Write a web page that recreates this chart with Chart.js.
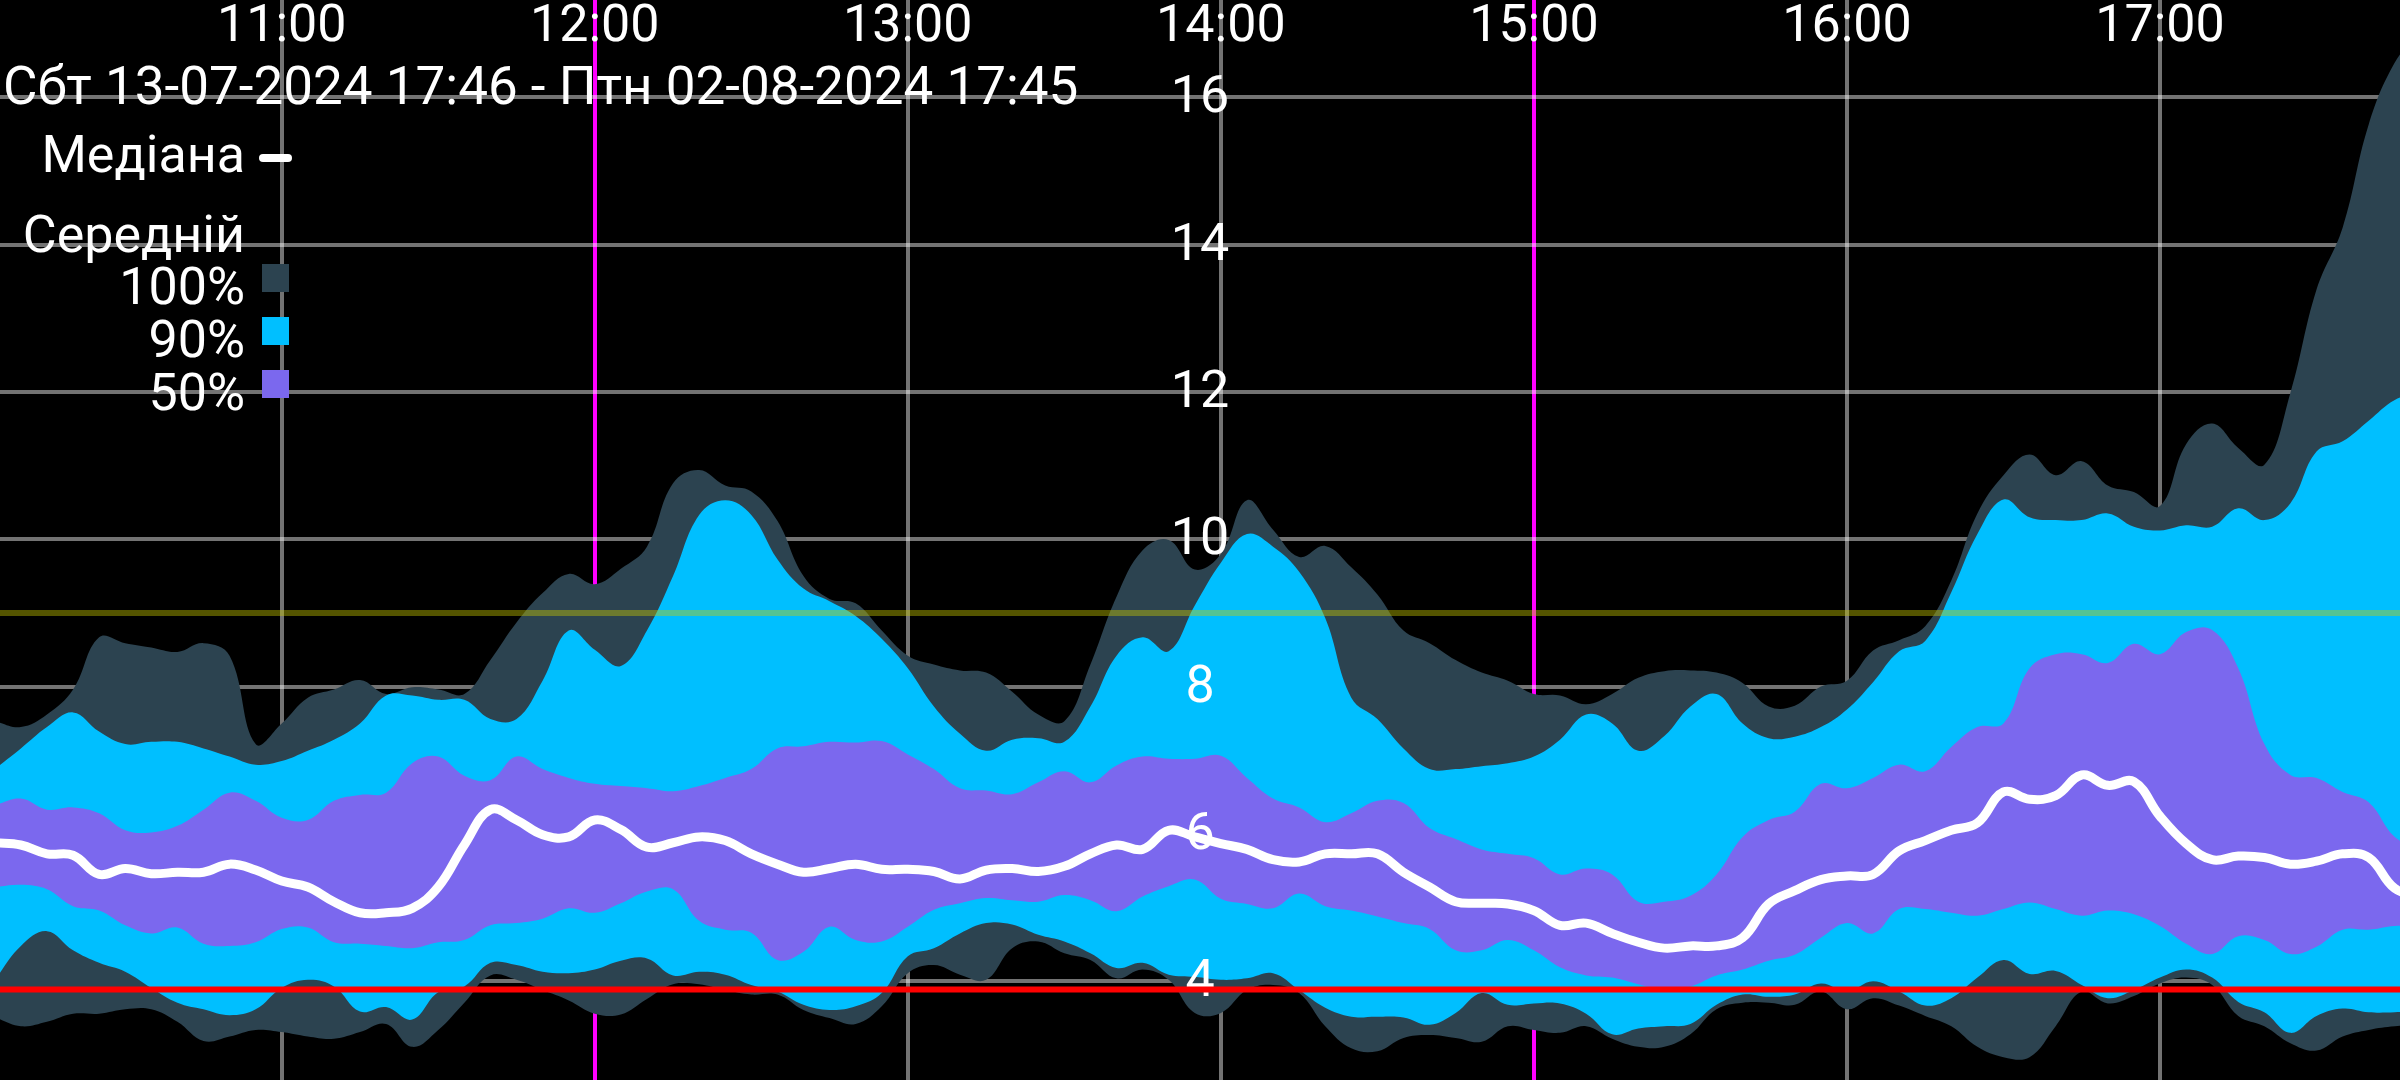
<!DOCTYPE html>
<html>
<head>
<meta charset="utf-8">
<title>Медіана / Середній</title>
<script src="https://cdn.jsdelivr.net/npm/chart.js@4.4.1/dist/chart.umd.min.js"></script>
<style>
  html, body { margin: 0; padding: 0; background: #000; }
  #wrap { width: 2400px; height: 1080px; position: relative; }
</style>
</head>
<body>
<div id="wrap"><canvas id="chart"></canvas></div>
<script>
// time of day, 5 minute steps
var times = ['10:05','10:10','10:15','10:20','10:25','10:30','10:35','10:40','10:45','10:50','10:55',
  '11:00','11:05','11:10','11:15','11:20','11:25','11:30','11:35','11:40','11:45','11:50','11:55',
  '12:00','12:05','12:10','12:15','12:20','12:25','12:30','12:35','12:40','12:45','12:50','12:55',
  '13:00','13:05','13:10','13:15','13:20','13:25','13:30','13:35','13:40','13:45','13:50','13:55',
  '14:00','14:05','14:10','14:15','14:20','14:25','14:30','14:35','14:40','14:45','14:50','14:55',
  '15:00','15:05','15:10','15:15','15:20','15:25','15:30','15:35','15:40','15:45','15:50','15:55',
  '16:00','16:05','16:10','16:15','16:20','16:25','16:30','16:35','16:40','16:45','16:50','16:55',
  '17:00','17:05','17:10','17:15','17:20','17:25','17:30','17:35','17:40','17:45','17:50'];

var maxVals = [7.53,7.45,7.62,7.96,8.67,8.59,8.53,8.47,8.59,8.42,7.22,7.50,7.85,7.96,8.09,7.90,7.99,7.96,7.90,8.36,8.87,9.27,9.53,9.39,9.60,
  9.90,10.76,10.94,10.73,10.65,10.25,9.50,9.19,9.13,8.76,8.42,8.30,8.22,8.19,7.93,7.62,7.53,8.30,9.22,9.85,9.99,9.59,
  9.80,
  10.53,10.13,9.76,9.91,9.62,9.25,8.76,8.59,8.36,8.19,8.08,7.90,7.88,7.76,7.90,8.12,8.21,8.22,8.19,8.05,7.73,7.74,8.00,
  8.08,8.49,8.63,8.82,9.44,10.35,10.87,11.15,10.87,11.06,10.73,10.64,10.45,11.29,11.57,11.24,11.01,11.99,13.39,14.23,15.63,16.47,
  16.90];
var p95Vals = [6.88,7.16,7.45,7.65,7.39,7.22,7.25,7.25,7.16,7.05,6.94,6.99,7.13,7.28,7.50,7.88,7.88,7.82,7.82,7.56,7.56,8.08,8.76,8.50,8.28,
  8.76,9.50,10.33,10.53,10.33,9.73,9.33,9.16,8.96,8.65,8.25,7.73,7.36,7.13,7.28,7.30,7.25,7.73,8.42,8.67,8.48,9.10,
  9.68,
  10.07,9.90,9.56,8.93,7.85,7.56,7.16,6.88,6.88,6.92,6.96,7.05,7.28,7.62,7.50,7.13,7.33,7.73,7.90,7.50,7.30,7.32,7.45,
  7.69,8.06,8.48,8.62,9.28,10.07,10.54,10.30,10.26,10.26,10.35,10.17,10.12,10.19,10.17,10.42,10.26,10.49,11.19,11.33,11.61,11.89,
  12.00];
var p75Vals = [6.39,6.48,6.33,6.36,6.28,6.05,6.02,6.11,6.33,6.56,6.45,6.22,6.19,6.45,6.53,6.56,6.96,7.05,6.79,6.73,7.05,6.88,6.76,6.68,6.65,
  6.62,6.58,6.65,6.76,6.88,7.16,7.19,7.25,7.24,7.26,7.08,6.88,6.62,6.59,6.54,6.70,6.85,6.70,6.93,7.05,7.02,7.02,
  7.06,
  6.76,6.48,6.36,6.16,6.28,6.45,6.42,6.08,5.93,5.79,5.73,5.67,5.45,5.53,5.45,5.08,5.08,5.16,5.45,5.96,6.19,6.30,6.68,
  6.62,6.76,6.94,6.85,7.18,7.45,7.50,8.25,8.44,8.44,8.32,8.58,8.44,8.74,8.77,8.25,7.22,6.80,6.76,6.57,6.43,5.96,
  5.80];
var medianVals = [5.88,5.85,5.73,5.71,5.45,5.53,5.46,5.48,5.48,5.59,5.51,5.36,5.28,5.08,4.93,4.93,4.99,5.28,5.85,6.33,6.19,5.99,5.96,6.19,6.06,
  5.82,5.88,5.96,5.91,5.73,5.59,5.48,5.53,5.59,5.52,5.52,5.49,5.39,5.51,5.53,5.49,5.56,5.73,5.85,5.79,6.05,5.96,
  5.87,
  5.79,5.65,5.62,5.73,5.73,5.73,5.48,5.28,5.08,5.06,5.05,4.96,4.76,4.79,4.65,4.53,4.45,4.48,4.48,4.59,5.05,5.23,5.38,
  5.43,5.45,5.77,5.91,6.05,6.15,6.57,6.47,6.52,6.80,6.66,6.71,6.24,5.87,5.65,5.70,5.68,5.59,5.63,5.73,5.68,5.26,
  5.15];
var p25Vals = [5.28,5.31,5.25,5.02,4.96,4.76,4.65,4.73,4.51,4.48,4.53,4.71,4.73,4.53,4.51,4.48,4.45,4.53,4.56,4.76,4.79,4.85,4.99,4.93,5.06,
  5.22,5.25,4.82,4.70,4.66,4.29,4.40,4.74,4.56,4.54,4.74,4.97,5.06,5.13,5.10,5.08,5.17,5.10,4.95,5.15,5.29,5.38,
  5.12,
  5.05,4.99,5.19,5.02,4.96,4.88,4.79,4.71,4.42,4.42,4.56,4.42,4.19,4.08,4.05,3.96,3.88,3.93,4.08,4.16,4.28,4.36,4.59,
  4.79,4.65,4.98,4.98,4.93,4.89,4.98,5.07,4.98,4.89,4.96,4.91,4.75,4.51,4.37,4.61,4.56,4.37,4.47,4.70,4.70,4.75,
  4.75];
var p5Vals = [4.02,4.48,4.68,4.42,4.25,4.13,3.91,3.71,3.62,3.54,3.62,3.91,4.02,3.93,3.59,3.65,3.48,3.85,3.93,4.25,4.22,4.13,4.11,4.16,4.28,
  4.31,4.08,4.13,4.09,3.95,3.86,3.68,3.61,3.66,3.84,4.34,4.45,4.65,4.79,4.77,4.63,4.54,4.38,4.18,4.25,4.09,4.06,
  4.02,
  4.04,4.11,3.88,3.64,3.52,3.52,3.51,3.41,3.57,3.84,3.68,3.70,3.70,3.56,3.28,3.36,3.39,3.42,3.68,3.82,3.79,3.82,3.97,
  3.86,4.00,3.86,3.67,3.77,4.05,4.29,4.10,4.14,3.95,3.77,3.88,4.05,4.16,4.05,3.72,3.58,3.30,3.53,3.63,3.58,3.58,
  3.60];
var minVals = [3.51,3.39,3.45,3.56,3.56,3.62,3.62,3.45,3.19,3.25,3.34,3.31,3.25,3.22,3.31,3.42,3.11,3.34,3.71,4.08,4.02,3.88,3.74,3.56,3.55,
  3.76,3.96,3.96,3.88,3.82,3.82,3.61,3.50,3.42,3.66,4.11,4.22,4.09,4.02,4.45,4.54,4.38,4.29,4.04,4.16,4.02,3.57,
  3.57,
  3.88,3.95,3.84,3.39,3.09,3.05,3.23,3.27,3.23,3.18,3.39,3.34,3.30,3.39,3.22,3.11,3.11,3.28,3.62,3.71,3.71,3.68,3.86,
  3.62,3.77,3.67,3.53,3.39,3.11,2.97,2.97,3.39,3.86,3.70,3.80,3.97,4.05,3.95,3.53,3.39,3.16,3.06,3.25,3.34,3.39,
  3.40];

var upperLevel = 9.0;
var lowerLevel = 3.89;
var markerTimes = ['12:00', '15:00'];
var rangeLabel = 'Сбт 13-07-2024 17:46 - Птн 02-08-2024 17:45';
var viewStart = '10:06';
var viewEnd = '17:46';

function toMinutes(s) {
  var p = s.split(':');
  return parseInt(p[0], 10) * 60 + parseInt(p[1], 10);
}
function hhmm(m) {
  var h = Math.floor(m / 60), mm = Math.round(m % 60);
  return (h < 10 ? '0' : '') + h + ':' + (mm < 10 ? '0' : '') + mm;
}
function series(vals) {
  return vals.map(function(v, i) { return { x: toMinutes(times[i]), y: v }; });
}
function level(v) {
  return [{ x: toMinutes(times[0]), y: v }, { x: toMinutes(times[times.length - 1]), y: v }];
}

var SLATE = '#2c4350', CYAN = '#00bfff', PURPLE = '#7b68ee';
var FONT = '52px Roboto';
var markerMinutes = markerTimes.map(toMinutes);

var band = { borderWidth: 0, pointRadius: 0, tension: 0.4 };

// labels, legend and tick texts
var overlay = {
  id: 'overlay',
  beforeDatasetsDraw: function(chart) {
    var ctx = chart.ctx, area = chart.chartArea;
    var xs = chart.scales.x, ys = chart.scales.y;
    ctx.save();
    ctx.fillStyle = '#fff';
    ctx.font = FONT;
    ctx.textBaseline = 'alphabetic';

    ctx.textAlign = 'center';
    xs.ticks.forEach(function(t) {
      ctx.fillText(hhmm(t.value), xs.getPixelForValue(t.value), 41);
    });
    var cx = (area.left + area.right) / 2;
    ys.ticks.forEach(function(t) {
      ctx.fillText(String(t.value), cx, ys.getPixelForValue(t.value) + 15);
    });

    ctx.textAlign = 'left';
    ctx.font = '53px Roboto';
    ctx.fillText(rangeLabel, 3, 104);
    ctx.font = FONT;

    ctx.textAlign = 'right';
    ctx.fillText('Медіана', 245, 172);
    ctx.fillText('Середній', 245, 252);
    ctx.fillText('100%', 245, 304);
    ctx.fillText('90%', 245, 357);
    ctx.fillText('50%', 245, 410);

    ctx.strokeStyle = '#fff';
    ctx.lineWidth = 8;
    ctx.lineCap = 'round';
    ctx.beginPath();
    ctx.moveTo(263, 158);
    ctx.lineTo(288, 158);
    ctx.stroke();

    ctx.fillStyle = SLATE;  ctx.fillRect(262, 264, 27, 28);
    ctx.fillStyle = CYAN;   ctx.fillRect(262, 317, 27, 28);
    ctx.fillStyle = PURPLE; ctx.fillRect(262, 370, 27, 28);
    ctx.restore();
  }
};

var context = document.getElementById('chart').getContext('2d');
new Chart(context, {
  type: 'line',
  data: {
    datasets: [
      Object.assign({ label: '100%', data: series(maxVals), fill: '+1', backgroundColor: SLATE, order: 3 }, band),
      Object.assign({ label: 'min', data: series(minVals), fill: false, order: 3 }, band),
      Object.assign({ label: '90%', data: series(p95Vals), fill: '+1', backgroundColor: CYAN, order: 2 }, band),
      Object.assign({ label: 'p5', data: series(p5Vals), fill: false, order: 2 }, band),
      Object.assign({ label: '50%', data: series(p75Vals), fill: '+1', backgroundColor: PURPLE, order: 1 }, band),
      Object.assign({ label: 'p25', data: series(p25Vals), fill: false, order: 1 }, band),
      {
        label: 'Медіана',
        data: series(medianVals),
        borderColor: '#fff',
        borderWidth: 9,
        borderJoinStyle: 'round',
        borderCapStyle: 'round',
        pointRadius: 0,
        fill: false,
        tension: 0.4,
        order: 0
      },
      { label: 'upper', data: level(upperLevel), borderColor: 'rgba(200,200,0,0.42)', borderWidth: 6, pointRadius: 0, fill: false, order: 0 },
      { label: 'lower', data: level(lowerLevel), borderColor: '#ff0000', borderWidth: 6, pointRadius: 0, fill: false, order: 0 }
    ]
  },
  options: {
    responsive: true,
    maintainAspectRatio: false,
    devicePixelRatio: 1,
    animation: false,
    layout: { padding: 0 },
    plugins: {
      legend: { display: false },
      tooltip: { enabled: false },
      filler: { drawTime: 'beforeDatasetsDraw' }
    },
    scales: {
      x: {
        type: 'linear',
        position: 'top',
        min: toMinutes(viewStart),
        max: toMinutes(viewEnd),
        z: 1,
        ticks: { display: false, stepSize: 60, includeBounds: false },
        grid: {
          drawTicks: false,
          lineWidth: 4,
          color: function(c) {
            return c.tick && markerMinutes.indexOf(c.tick.value) >= 0 ? '#ff00ff' : 'rgba(255,255,255,0.45)';
          }
        },
        border: { display: false },
        afterFit: function(s) { s.height = 0; }
      },
      y: {
        type: 'linear',
        min: 2.66,
        max: 17.32,
        z: 1,
        ticks: { display: false, stepSize: 2, includeBounds: false },
        grid: { drawTicks: false, lineWidth: 4, color: 'rgba(255,255,255,0.45)' },
        border: { display: false },
        afterFit: function(s) { s.width = 0; }
      }
    }
  },
  plugins: [overlay]
});
</script>
</body>
</html>
